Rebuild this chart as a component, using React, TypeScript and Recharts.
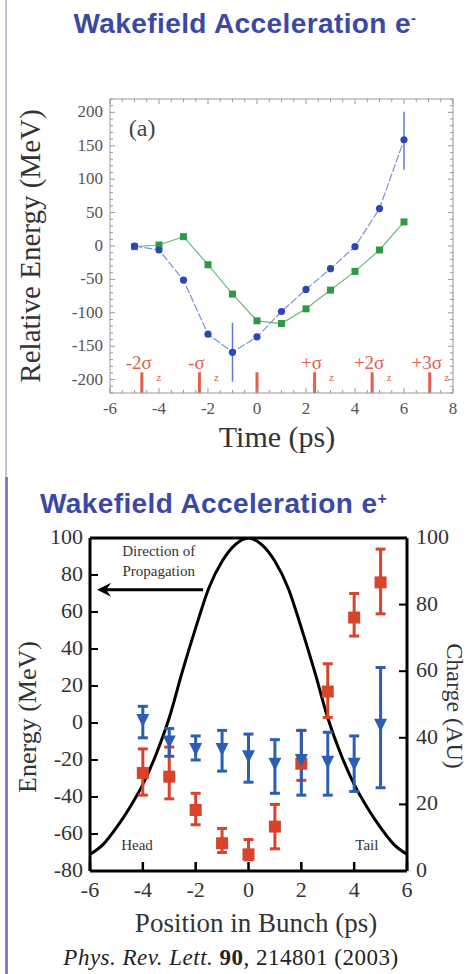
import React from 'react';
import { ComposedChart, Line, Scatter, XAxis, YAxis, ErrorBar, ReferenceLine, ReferenceDot } from 'recharts';

const SERIF = '"Liberation Serif", "DejaVu Serif", serif';
const SANS = '"Liberation Sans", Arial, sans-serif';
const TITLE_BLUE = '#3b48a6';

// ---- panel (a): e- wakefield ----
const eMinusTime = [-5, -4, -3, -2, -1, 0, 1, 2, 3, 4, 5, 6];
const blueEnergy = [0, -6, -51, -132, -159, -136, -98, -65, -34, -1, 56, 159];
const blueErrLow = [0, 0, 0, 0, -203, 0, 0, 0, 0, 0, 0, 114];
const blueErrHigh = [0, 0, 0, 0, -115, 0, 0, 0, 0, 0, 0, 201];
const greenEnergy = [-1, 1.5, 14, -28, -72, -112, -116, -94, -66, -38, -6, 36];
const sigmaPos = [-4.7, -2.35, 0, 2.35, 4.7, 7.05];
const sigmaLabels = ['-2σ', '-σ', '', '+σ', '+2σ', '+3σ'];

// ---- panel (b): e+ wakefield ----
const posX = [-4, -3, -2, -1, 0, 1, 2, 3, 4, 5];
const redEnergy = [-27, -29, -47, -65, -71, -56, -22, 17, 57, 76];
const redLow = [-39, -41, -55, -70, -74, -68, -31, 3, 47, 59];
const redHigh = [-14, -13, -38, -57, -63, -44, -4, 32, 70, 94];
const blueTriEnergy = [1.6, -10, -14, -14, -18, -22, -20, -21, -22, -1];
const blueTriLow = [-8, -18, -20, -26, -32, -38, -39, -39, -37, -35];
const blueTriHigh = [9, -3, -7, -4, -6, -9, -4, -5, -7, 30];
const chargeX = [-6, -5.5, -5, -4.5, -4, -3.5, -3, -2.5, -2, -1.5, -1, -0.5, 0, 0.5, 1, 1.5, 2, 2.5, 3, 3.5, 4, 4.5, 5, 5.5, 6];
const chargeVal = [5, 8, 13, 19, 26, 35, 46, 60, 73, 85, 93, 98, 100, 98, 93, 85, 73, 60, 46, 35, 26, 19, 13, 8, 5];

const range = (a: number, b: number, s: number) => {
  const out: number[] = [];
  for (let v = a; v <= b + 1e-9; v += s) out.push(Math.round(v * 100) / 100);
  return out;
};

const topXTicks = range(-6, 8, 0.5);
const topYTicks = range(-220, 220, 10);
const botXTicks = [-6, -4, -2, 0, 2, 4, 6];
const botYTicks = [-80, -60, -40, -20, 0, 20, 40, 60, 80, 100];
const chargeTicks = [0, 20, 40, 60, 80, 100];

const blueData = eMinusTime.map((t, i) => ({
  x: t,
  y: blueEnergy[i],
  err: [blueEnergy[i] - (blueErrLow[i] || blueEnergy[i]), (blueErrHigh[i] || blueEnergy[i]) - blueEnergy[i]],
}));
const greenData = eMinusTime.map((t, i) => ({ x: t, y: greenEnergy[i] }));
const redData = posX.map((x, i) => ({ x, e: redEnergy[i], err: [redEnergy[i] - redLow[i], redHigh[i] - redEnergy[i]] }));
const triData = posX.map((x, i) => ({ x, e: blueTriEnergy[i], err: [blueTriEnergy[i] - blueTriLow[i], blueTriHigh[i] - blueTriEnergy[i]] }));
const chargeData = chargeX.map((x, i) => ({ x, c: chargeVal[i] }));

const GRAY = '#999';
const TICK_TXT = '#555';

// ticks for panel (a)
const ABottomTick = (p: any) => {
  const v = p.payload.value;
  const major = Math.abs(v % 2) < 1e-6;
  return (
    <g>
      <line x1={p.x} x2={p.x} y1={p.y} y2={p.y - (major ? 5 : 3)} stroke={GRAY} />
      {major && (
        <text x={p.x} y={p.y + 21} textAnchor="middle" fontFamily={SERIF} fontSize={17} fill={TICK_TXT}>{v}</text>
      )}
    </g>
  );
};
const ATopTick = (p: any) => {
  const v = p.payload.value;
  const major = Math.abs(v % 2) < 1e-6;
  return <line x1={p.x} x2={p.x} y1={p.y} y2={p.y + (major ? 5 : 3)} stroke={GRAY} />;
};
const ALeftTick = (p: any) => {
  const v = p.payload.value;
  const major = v % 50 === 0;
  return (
    <g>
      <line x1={p.x} x2={p.x + (major ? 5 : 3)} y1={p.y} y2={p.y} stroke={GRAY} />
      {major && Math.abs(v) <= 200 && (
        <text x={p.x - 7} y={p.y + 5} textAnchor="end" fontFamily={SERIF} fontSize={17} fill={TICK_TXT}>{v}</text>
      )}
    </g>
  );
};
const ARightTick = (p: any) => {
  const major = p.payload.value % 50 === 0;
  return <line x1={p.x} x2={p.x - (major ? 5 : 3)} y1={p.y} y2={p.y} stroke={GRAY} />;
};

// ticks for panel (b)
const BBottomTick = (p: any) => (
  <g>
    <line x1={p.x} x2={p.x} y1={p.y} y2={p.y - 9} stroke="#000" strokeWidth={2.5} />
    <text x={p.x} y={p.y + 26} textAnchor="middle" fontFamily={SERIF} fontSize={22} fill="#333">{p.payload.value}</text>
  </g>
);
const BLeftTick = (p: any) => (
  <g>
    <line x1={p.x} x2={p.x + 8} y1={p.y} y2={p.y} stroke="#000" strokeWidth={2} />
    <text x={p.x - 7} y={p.y + 6} textAnchor="end" fontFamily={SERIF} fontSize={22} fill="#333">{p.payload.value}</text>
  </g>
);
const BRightTick = (p: any) => (
  <g>
    <line x1={p.x} x2={p.x - 8} y1={p.y} y2={p.y} stroke="#000" strokeWidth={2} />
    <text x={p.x + 9} y={p.y + 6} textAnchor="start" fontFamily={SERIF} fontSize={22} fill="#333">{p.payload.value}</text>
  </g>
);

const circleDot = (p: any) => <circle key={p.index} cx={p.cx} cy={p.cy} r={3.6} fill="#2a47b8" />;
const squareDot = (p: any) => <rect key={p.index} x={p.cx - 3.5} y={p.cy - 3.5} width={7} height={7} fill="#2f9a45" />;
const redSquare = (p: any) => <rect x={p.cx - 6} y={p.cy - 6} width={12} height={12} fill="#d8432b" />;
const blueTri = (p: any) => <polygon points={`${p.cx - 6.5},${p.cy - 6} ${p.cx + 6.5},${p.cy - 6} ${p.cx},${p.cy + 7}`} fill="#2a5fb5" />;

const sigmaLabel = (text: string) => (props: any) => {
  const vb = props.viewBox || {};
  if (!text) return null;
  const x = vb.x ?? 0;
  const y = vb.y ?? 0;
  return (
    <g>
      <text x={x - 3} y={y - 3} textAnchor="middle" fontFamily={SERIF} fontSize={19} fill="#e2604a">{text}</text>
      <text x={x + 17} y={y + 9} textAnchor="middle" fontFamily={SERIF} fontSize={11} fill="#e2604a">z</text>
    </g>
  );
};

const textShape = (txt: string, size: number, color: string) => (p: any) => (
  <text x={p.cx} y={p.cy} textAnchor="middle" dominantBaseline="central" fontFamily={SERIF} fontSize={size} fill={color}>{txt}</text>
);
const arrowHead = (p: any) => (
  <polygon points={`${p.cx},${p.cy} ${p.cx + 14},${p.cy - 7} ${p.cx + 9},${p.cy} ${p.cx + 14},${p.cy + 7}`} fill="#000" />
);

const rotated = (cx: number, cy: number, deg: number, size: number, text: string, color = '#333') => (
  <div
    style={{
      position: 'absolute', left: cx, top: cy, transform: `translate(-50%, -50%) rotate(${deg}deg)`,
      whiteSpace: 'nowrap', fontFamily: SERIF, fontSize: size, color, lineHeight: 1,
    }}
  >
    {text}
  </div>
);

export default function App() {
  return (
    <div style={{ position: 'absolute', left: 0, top: 0, width: 469, height: 974, background: '#fff', overflow: 'hidden' }}>
      <div style={{ position: 'absolute', left: 5, top: 0, width: 2, height: 477, background: '#c3c3e6' }} />
      <div style={{ position: 'absolute', left: 5, top: 477, width: 3, height: 497, background: '#7e7ecc' }} />

      <div style={{ position: 'absolute', left: 0, width: 490, top: 10, textAlign: 'center', fontFamily: SANS, fontWeight: 700, fontSize: 28, letterSpacing: 0.4, color: TITLE_BLUE, lineHeight: 1 }}>
        Wakefield Acceleration e<span style={{ fontSize: 15, verticalAlign: 10 }}>-</span>
      </div>

      <div style={{ position: 'absolute', left: 0, top: 0 }}>
        <ComposedChart width={469} height={460} margin={{ top: 89, right: 6, bottom: 37, left: 50 }}>
          <XAxis xAxisId="b" dataKey="x" type="number" domain={[-6, 8]} ticks={topXTicks} interval={0} allowDataOverflow
            tick={ABottomTick} tickLine={false} tickSize={0} tickMargin={0} height={30} axisLine={{ stroke: GRAY }} />
          <XAxis xAxisId="t" orientation="top" dataKey="x" type="number" domain={[-6, 8]} ticks={topXTicks} interval={0} allowDataOverflow
            tick={ATopTick} tickLine={false} tickSize={0} tickMargin={0} height={10} axisLine={{ stroke: GRAY }} />
          <YAxis yAxisId="l" type="number" domain={[-220, 220]} ticks={topYTicks} interval={0} allowDataOverflow
            tick={ALeftTick} tickLine={false} tickSize={0} tickMargin={0} width={60} axisLine={{ stroke: GRAY }} />
          <YAxis yAxisId="r" orientation="right" type="number" domain={[-220, 220]} ticks={topYTicks} interval={0} allowDataOverflow
            tick={ARightTick} tickLine={false} tickSize={0} tickMargin={0} width={10} axisLine={{ stroke: GRAY }} />

          {sigmaPos.map((s, i) => (
            <ReferenceLine key={i} xAxisId="b" yAxisId="l" segment={[{ x: s, y: -189 }, { x: s, y: -220 }]}
              stroke="#e2604a" strokeWidth={3} label={sigmaLabel(sigmaLabels[i])} />
          ))}
          <ReferenceDot xAxisId="b" yAxisId="l" x={-4.69} y={177} r={0} shape={textShape('(a)', 24, '#444')} />

          <Line xAxisId="b" yAxisId="l" data={greenData} dataKey="y" stroke="#6cba7a" strokeWidth={1.2}
            dot={squareDot} isAnimationActive={false} />
          <Line xAxisId="b" yAxisId="l" data={blueData} dataKey="y" stroke="#7d8fde" strokeWidth={1.2} strokeDasharray="8 2"
            dot={circleDot} isAnimationActive={false}>
            <ErrorBar dataKey="err" direction="y" width={0} stroke="#6278d6" strokeWidth={1.5} />
          </Line>
        </ComposedChart>
      </div>
      {rotated(30, 246, -90, 29, 'Relative Energy (MeV)')}
      {rotated(277, 437, 0, 30, 'Time (ps)')}

      <div style={{ position: 'absolute', left: 40, top: 490, fontFamily: SANS, fontWeight: 700, fontSize: 28, letterSpacing: 0.4, color: TITLE_BLUE, lineHeight: 1 }}>
        Wakefield Acceleration e<span style={{ fontSize: 16, verticalAlign: 9 }}>+</span>
      </div>

      <div style={{ position: 'absolute', left: 0, top: 480 }}>
        <ComposedChart width={469} height={440} margin={{ top: 48, right: 12, bottom: 9, left: 40 }}>
          <XAxis xAxisId="b" dataKey="x" type="number" domain={[-6, 6]} ticks={botXTicks} interval={0} allowDataOverflow
            tick={BBottomTick} tickLine={false} tickSize={0} tickMargin={0} height={40} axisLine={{ stroke: '#000', strokeWidth: 3 }} />
          <XAxis xAxisId="t" orientation="top" dataKey="x" type="number" domain={[-6, 6]} ticks={botXTicks}
            tick={false} tickLine={false} height={10} axisLine={{ stroke: '#000', strokeWidth: 3 }} />
          <YAxis yAxisId="e" type="number" domain={[-80, 100]} ticks={botYTicks} interval={0} allowDataOverflow
            tick={BLeftTick} tickLine={false} tickSize={0} tickMargin={0} width={50} axisLine={{ stroke: '#000', strokeWidth: 3 }} />
          <YAxis yAxisId="c" orientation="right" type="number" domain={[0, 100]} ticks={chargeTicks} interval={0} allowDataOverflow
            tick={BRightTick} tickLine={false} tickSize={0} tickMargin={0} width={50} axisLine={{ stroke: '#000', strokeWidth: 3 }} />

          <Line xAxisId="b" yAxisId="c" data={chargeData} dataKey="c" type="monotone" stroke="#000" strokeWidth={3}
            dot={false} isAnimationActive={false} />

          <ReferenceLine xAxisId="b" yAxisId="e" segment={[{ x: -5.6, y: 72 }, { x: -1.72, y: 72 }]} stroke="#000" strokeWidth={3} />
          <ReferenceDot xAxisId="b" yAxisId="e" x={-5.73} y={72} r={0} shape={arrowHead} />
          <ReferenceDot xAxisId="b" yAxisId="e" x={-3.4} y={93} r={0} shape={textShape('Direction of', 15, '#333')} />
          <ReferenceDot xAxisId="b" yAxisId="e" x={-3.4} y={82} r={0} shape={textShape('Propagation', 15, '#333')} />
          <ReferenceDot xAxisId="b" yAxisId="e" x={-4.22} y={-66} r={0} shape={textShape('Head', 15, '#333')} />
          <ReferenceDot xAxisId="b" yAxisId="e" x={4.48} y={-66} r={0} shape={textShape('Tail', 15, '#333')} />

          <Scatter xAxisId="b" yAxisId="e" data={redData} dataKey="e" shape={redSquare} isAnimationActive={false}>
            <ErrorBar dataKey="err" direction="y" width={5} stroke="#d8432b" strokeWidth={3} />
          </Scatter>
          <Scatter xAxisId="b" yAxisId="e" data={triData} dataKey="e" shape={blueTri} isAnimationActive={false}>
            <ErrorBar dataKey="err" direction="y" width={5} stroke="#2a5fb5" strokeWidth={3} />
          </Scatter>
        </ComposedChart>
      </div>
      {rotated(28, 717, -90, 26, 'Energy (MeV)')}
      {rotated(455, 706, 90, 24, 'Charge (AU)')}
      {rotated(256, 923, 0, 27, 'Position in Bunch (ps)')}
      <div style={{ position: 'absolute', left: 0, width: 462, top: 946, textAlign: 'center', fontFamily: SERIF, fontSize: 23, letterSpacing: 0.5, color: '#222', lineHeight: 1, whiteSpace: 'nowrap' }}>
        <i>Phys. Rev. Lett.</i> <b>90</b>, 214801 (2003)
      </div>
    </div>
  );
}
